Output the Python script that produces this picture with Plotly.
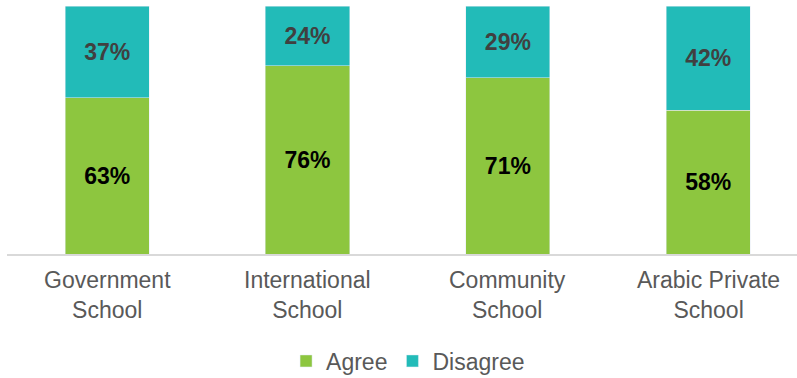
import plotly.graph_objects as go

# Survey responses by school type (percent of respondents)
categories = ["Government School", "International School", "Community School", "Arabic Private School"]
tick_labels = ["Government<br>School", "International<br>School", "Community<br>School", "Arabic Private<br>School"]
agree = [63, 76, 71, 58]
disagree = [37, 24, 29, 42]

GREEN = "#8DC63F"
TEAL = "#22BBB8"
FONT = "Liberation Sans, Arial, sans-serif"

fig = go.Figure()
fig.add_trace(go.Bar(
    name="Agree", x=categories, y=agree, marker_color=GREEN, width=0.42,
    texttemplate="%{y}%", textposition="inside", insidetextanchor="middle",
    textangle=0, constraintext="none",
    textfont=dict(family=FONT, size=23, color="#000000", weight="bold"),
))
fig.add_trace(go.Bar(
    name="Disagree", x=categories, y=disagree, marker_color=TEAL, width=0.42,
    texttemplate="%{y}%", textposition="inside", insidetextanchor="middle",
    textangle=0, constraintext="none",
    textfont=dict(family=FONT, size=23, color="#404040", weight="bold"),
))

# Two-line category labels under each bar
annotations = [
    dict(x=cat, xref="x", y=0, yref="paper", yanchor="middle", yshift=-41,
         text=label, showarrow=False,
         font=dict(family=FONT, size=23, color="#595959"))
    for cat, label in zip(categories, tick_labels)
]

fig.update_layout(
    width=797, height=378,
    margin=dict(l=7, r=0, t=6, b=124),
    barmode="stack",
    paper_bgcolor="white", plot_bgcolor="white",
    font=dict(family=FONT, color="#595959"),
    xaxis=dict(
        range=[-0.5, 3.443], showticklabels=False, ticks="",
        showline=True, linecolor="#D9D9D9", linewidth=2, showgrid=False,
        fixedrange=True,
    ),
    yaxis=dict(range=[0, 100], visible=False, fixedrange=True),
    legend=dict(
        orientation="h", xref="container", x=0.512, xanchor="center",
        yref="container", y=(378 - 361) / 378, yanchor="middle",
        font=dict(family=FONT, size=23, color="#595959"),
        itemwidth=30, traceorder="normal",
    ),
    annotations=annotations,
    showlegend=True,
)

fig.write_html("out.html")
